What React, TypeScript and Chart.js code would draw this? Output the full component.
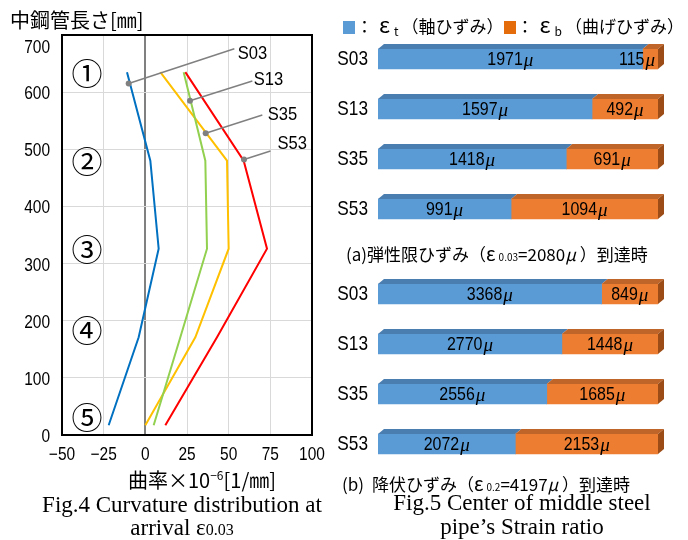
import React, { useEffect, useRef } from "react";
import { Chart, registerables } from "chart.js";
Chart.register(...registerables);

// ---------- Fig.4 data ----------
const heightLevels = [635, 480, 326, 171, 17];
const seriesNames = ["S03", "S13", "S35", "S53"];
const s03Curv = [-11, 3, 8, -4, -22];
const s13Curv = [23, 36, 37, 21, 5];
const s35Curv = [9, 49, 50, 30, 0];
const s53Curv = [24, 59, 73, 43, 12];
const lineColors = ["#0070c0", "#92d050", "#ffc000", "#ff0000"];
const xTicks = [-50, -25, 0, 25, 50, 75, 100];
const yTicks = [0, 100, 200, 300, 400, 500, 600, 700];
const zoneLabels = ["①", "②", "③", "④", "⑤"];
const zoneLevels = [633, 479, 325, 183, 31];
const zoneX = -35;
const calloutPoints = [[-10, 615], [26.8, 585], [36.2, 528], [59.2, 482]];
const calloutEnds = [[53.4, 676], [64.2, 619.5], [70.2, 560], [75.1, 497]];
const calloutLabels = [[55.4, 667], [65, 621], [73.4, 560], [79.3, 510]];

// ---------- Fig.5 data ----------
const barCats = ["S03", "S13", "S35", "S53"];
const axialA = [1971, 1597, 1418, 991];
const bendA = [115, 492, 691, 1094];
const axialB = [3368, 2770, 2556, 2072];
const bendB = [849, 1448, 1685, 2153];

const SANS = '"Liberation Sans", Arial, sans-serif';
const CJK = '"Noto Sans CJK JP", sans-serif';
const SERIF = '"Liberation Serif", "Times New Roman", serif';

function narrowText(ctx: any, text: string, x: number, y: number, size: number, align: string, sx = 0.86) {
  ctx.save();
  ctx.font = `${size}px ${SANS}`;
  const w = ctx.measureText(text).width * sx;
  const x0 = align === "left" ? x : align === "right" ? x - w : x - w / 2;
  ctx.translate(x0, y);
  ctx.scale(sx, 1);
  ctx.textAlign = "left";
  ctx.textBaseline = "middle";
  ctx.fillText(text, 0, 0);
  ctx.restore();
  return w;
}

function CurvatureChart() {
  const ref = useRef<HTMLCanvasElement>(null);
  useEffect(() => {
    const curves = [s03Curv, s13Curv, s35Curv, s53Curv];
    const overlay = {
      id: "overlay",
      afterDatasetsDraw(chart: any) {
        const { ctx, chartArea: a, scales } = chart;
        const x = scales.x, y = scales.y;
        ctx.save();
        ctx.strokeStyle = "#000";
        ctx.lineWidth = 2;
        ctx.strokeRect(a.left, a.top, a.right - a.left, a.bottom - a.top);
        ctx.fillStyle = "#000";
        yTicks.forEach((v) => {
          const py = Math.max(y.getPixelForValue(v) + 2, a.top + 13);
          narrowText(ctx, String(v), a.left - 12, py, 18, "right");
        });
        xTicks.forEach((v) => {
          const t = v < 0 ? "\u2212" + Math.abs(v) : String(v);
          narrowText(ctx, t, x.getPixelForValue(v), a.bottom + 20, 18, "center");
        });
        ctx.font = `31px ${CJK}`;
        ctx.textAlign = "center";
        ctx.textBaseline = "middle";
        zoneLabels.forEach((t, i) => {
          ctx.fillText(t, x.getPixelForValue(zoneX), y.getPixelForValue(zoneLevels[i]));
        });
        ctx.strokeStyle = "#808080";
        ctx.fillStyle = "#808080";
        ctx.lineWidth = 1.5;
        calloutPoints.forEach((p, i) => {
          const px = x.getPixelForValue(p[0]), py = y.getPixelForValue(p[1]);
          const ex = x.getPixelForValue(calloutEnds[i][0]), ey = y.getPixelForValue(calloutEnds[i][1]);
          ctx.beginPath();
          ctx.moveTo(px, py);
          ctx.lineTo(ex, ey);
          ctx.stroke();
          ctx.beginPath();
          ctx.arc(px, py, 3, 0, Math.PI * 2);
          ctx.fill();
        });
        ctx.fillStyle = "#000";
        calloutLabels.forEach((p, i) => {
          narrowText(ctx, seriesNames[i], x.getPixelForValue(p[0]), y.getPixelForValue(p[1]), 18, "left", 0.92);
        });
        ctx.restore();
      },
    };
    const chart = new Chart(ref.current as HTMLCanvasElement, {
      type: "line",
      data: {
        datasets: seriesNames.map((n, si) => ({
          label: n,
          data: heightLevels.map((h, i) => ({ x: curves[si][i], y: h })),
          borderColor: lineColors[si],
          backgroundColor: lineColors[si],
          borderWidth: 2,
          pointRadius: 0,
          tension: 0,
          fill: false,
        })),
      },
      options: {
        animation: false,
        responsive: false,
        layout: { padding: { top: 35, right: 18, left: 0, bottom: 0 } },
        plugins: { legend: { display: false }, tooltip: { enabled: false } },
        scales: {
          x: {
            type: "linear",
            min: -50,
            max: 100,
            afterBuildTicks: (s: any) => { s.ticks = xTicks.map((v) => ({ value: v })); },
            afterFit: (s: any) => { s.height = 35; },
            grid: {
              color: (c: any) => (c.tick && c.tick.value === 0 ? "#808080" : "#d9d9d9"),
              lineWidth: (c: any) => (c.tick && c.tick.value === 0 ? 2 : 1),
              drawTicks: false,
            },
            border: { display: false },
            ticks: { display: false },
          },
          y: {
            type: "linear",
            min: 0,
            max: 700,
            afterBuildTicks: (s: any) => { s.ticks = yTicks.map((v) => ({ value: v })); },
            afterFit: (s: any) => { s.width = 62; },
            grid: { color: "#d9d9d9", lineWidth: 1, drawTicks: false },
            border: { display: false },
            ticks: { display: false },
          },
        },
      },
      plugins: [overlay],
    } as any);
    return () => chart.destroy();
  }, []);
  return <canvas ref={ref} width={330} height={470} style={{ position: "absolute", left: 0, top: 0 }} />;
}

function BarPanel({ axial, bend, top }: { axial: number[]; bend: number[]; top: number }) {
  const ref = useRef<HTMLCanvasElement>(null);
  useEffect(() => {
    const totals = axial.map((v, i) => v + bend[i]);
    const pa = axial.map((v, i) => (v / totals[i]) * 100);
    const pb = bend.map((v, i) => (v / totals[i]) * 100);
    const raw = [axial, bend];
    const bar3d = {
      id: "bar3d",
      afterDatasetsDraw(chart: any) {
        const ctx = chart.ctx;
        const a = chart.chartArea;
        const yScale = chart.scales.y;
        const dx = 6, dy = 5;
        const topColors = ["#4a7db0", "#c0652a"];
        const sideColor = "#9c4d17";
        const n = chart.data.datasets.length;
        ctx.save();
        for (let di = 0; di < n; di++) {
          const meta = chart.getDatasetMeta(di);
          meta.data.forEach((el: any) => {
            const { x, y, base, height } = el.getProps(["x", "y", "base", "height"], true);
            const t = y - height / 2, b = y + height / 2;
            ctx.fillStyle = topColors[di];
            ctx.beginPath();
            ctx.moveTo(base, t);
            ctx.lineTo(base + dx, t - dy);
            ctx.lineTo(x + dx, t - dy);
            ctx.lineTo(x, t);
            ctx.closePath();
            ctx.fill();
            if (di === n - 1) {
              ctx.fillStyle = sideColor;
              ctx.beginPath();
              ctx.moveTo(x, t);
              ctx.lineTo(x + dx, t - dy);
              ctx.lineTo(x + dx, b - dy);
              ctx.lineTo(x, b);
              ctx.closePath();
              ctx.fill();
            }
          });
        }
        ctx.fillStyle = "#000";
        barCats.forEach((c, i) => {
          narrowText(ctx, c, a.left - 10, yScale.getPixelForValue(i), 21, "right", 0.82);
        });
        const muFont = `italic 19px ${SERIF}`;
        ctx.textBaseline = "middle";
        for (let di = 0; di < n; di++) {
          const meta = chart.getDatasetMeta(di);
          meta.data.forEach((el: any, i: number) => {
            const { x, y, base } = el.getProps(["x", "y", "base"], true);
            const num = String(raw[di][i]);
            ctx.font = `19px ${SANS}`;
            const wn = ctx.measureText(num).width * 0.84;
            ctx.font = muFont;
            const wm = ctx.measureText("μ").width;
            const w = wn + wm + 1;
            let start = (base + x) / 2 - w / 2;
            if (w > x - base - 4) start = x - 3 - w;
            narrowText(ctx, num, start, y + 1, 19, "left", 0.84);
            ctx.font = muFont;
            ctx.textAlign = "left";
            ctx.textBaseline = "middle";
            ctx.fillText("μ", start + wn + 1, y + 2);
          });
        }
        ctx.restore();
      },
    };
    const chart = new Chart(ref.current as HTMLCanvasElement, {
      type: "bar",
      data: {
        labels: barCats,
        datasets: [
          { label: "εt（軸ひずみ）", data: pa, backgroundColor: "#5b9bd5", barThickness: 20, borderWidth: 0 },
          { label: "εb（曲げひずみ）", data: pb, backgroundColor: "#ed7d31", barThickness: 20, borderWidth: 0 },
        ],
      },
      options: {
        indexAxis: "y",
        animation: false,
        responsive: false,
        layout: { padding: { top: 4, right: 30, bottom: 6, left: 0 } },
        plugins: { legend: { display: false }, tooltip: { enabled: false } },
        scales: {
          x: { stacked: true, min: 0, max: 100, display: false },
          y: {
            stacked: true,
            afterFit: (s: any) => { s.width = 48; },
            grid: { display: false },
            border: { display: false },
            ticks: { display: false },
          },
        },
      },
      plugins: [bar3d],
    } as any);
    return () => chart.destroy();
  }, []);
  return <canvas ref={ref} width={358} height={210} style={{ position: "absolute", left: 330, top }} />;
}

const abs = (s: any): any => ({ position: "absolute", whiteSpace: "nowrap", color: "#000", ...s });
const sq = (c: string): any => ({ display: "inline-block", width: 12, height: 13, background: c, verticalAlign: "-1px" });

export default function App() {
  return (
    <div style={{ position: "fixed", left: 0, top: 0, width: 688, height: 540, background: "#fff", overflow: "hidden" }}>
      <CurvatureChart />
      <BarPanel axial={axialA} bend={bendA} top={30} />
      <BarPanel axial={axialB} bend={bendB} top={265} />
      <div style={abs({ left: 10, top: 7, fontFamily: CJK, fontSize: 20, lineHeight: "26px" })}>中鋼管長さ[㎜]</div>
      <div style={abs({ left: 128, top: 467, fontFamily: CJK, fontSize: 20, lineHeight: "26px" })}>
        曲率×10<sup style={{ fontSize: 12, verticalAlign: "8px", lineHeight: 0 }}>−6</sup>[1/㎜]
      </div>
      <div style={abs({ left: 0, width: 364, top: 493, textAlign: "center", fontFamily: SERIF, fontSize: 23, lineHeight: "23px" })}>
        Fig.4 Curvature distribution at
        <br />
        arrival ε<span style={{ fontSize: 16 }}>0.03</span>
      </div>
      <div style={abs({ left: 343, top: 10, fontFamily: CJK, fontSize: 17, lineHeight: "26px" })}>
        <span style={sq("#5b9bd5")} />
        <span style={{ marginLeft: 1 }}>：</span>
        <span style={{ fontSize: 22, marginLeft: 6 }}>ε</span>
        <span style={{ fontSize: 12, verticalAlign: "-3px", marginLeft: 4 }}>t</span>
        <span style={{ marginLeft: 3 }}>（軸ひずみ）</span>
        <span style={sq("#e46c0a")} />
        <span style={{ marginLeft: 1 }}>：</span>
        <span style={{ fontSize: 22, marginLeft: 6 }}>ε</span>
        <span style={{ fontSize: 12, verticalAlign: "-3px", marginLeft: 4 }}>b</span>
        <span style={{ marginLeft: 3 }}>（曲げひずみ）</span>
      </div>
      <div style={abs({ left: 346, top: 241, fontFamily: CJK, fontSize: 17, lineHeight: "24px" })}>
        (a)弾性限ひずみ（<span style={{ fontSize: 19 }}>ε</span>
        <span style={{ fontSize: 10, marginLeft: 3 }}>0.03</span>=2080<i>μ</i> ）到達時
      </div>
      <div style={abs({ left: 342, top: 471, fontFamily: CJK, fontSize: 17, lineHeight: "24px" })}>
        (b)<span style={{ marginLeft: 8 }}>降伏ひずみ（</span><span style={{ fontSize: 19 }}>ε</span>
        <span style={{ fontSize: 10, marginLeft: 3 }}>0.2</span>=4197<i>μ</i> ）到達時
      </div>
      <div style={abs({ left: 364, width: 316, top: 491, textAlign: "center", fontFamily: SERIF, fontSize: 23, lineHeight: "24px" })}>
        Fig.5 Center of middle steel
        <br />
        pipe’s Strain ratio
      </div>
    </div>
  );
}
